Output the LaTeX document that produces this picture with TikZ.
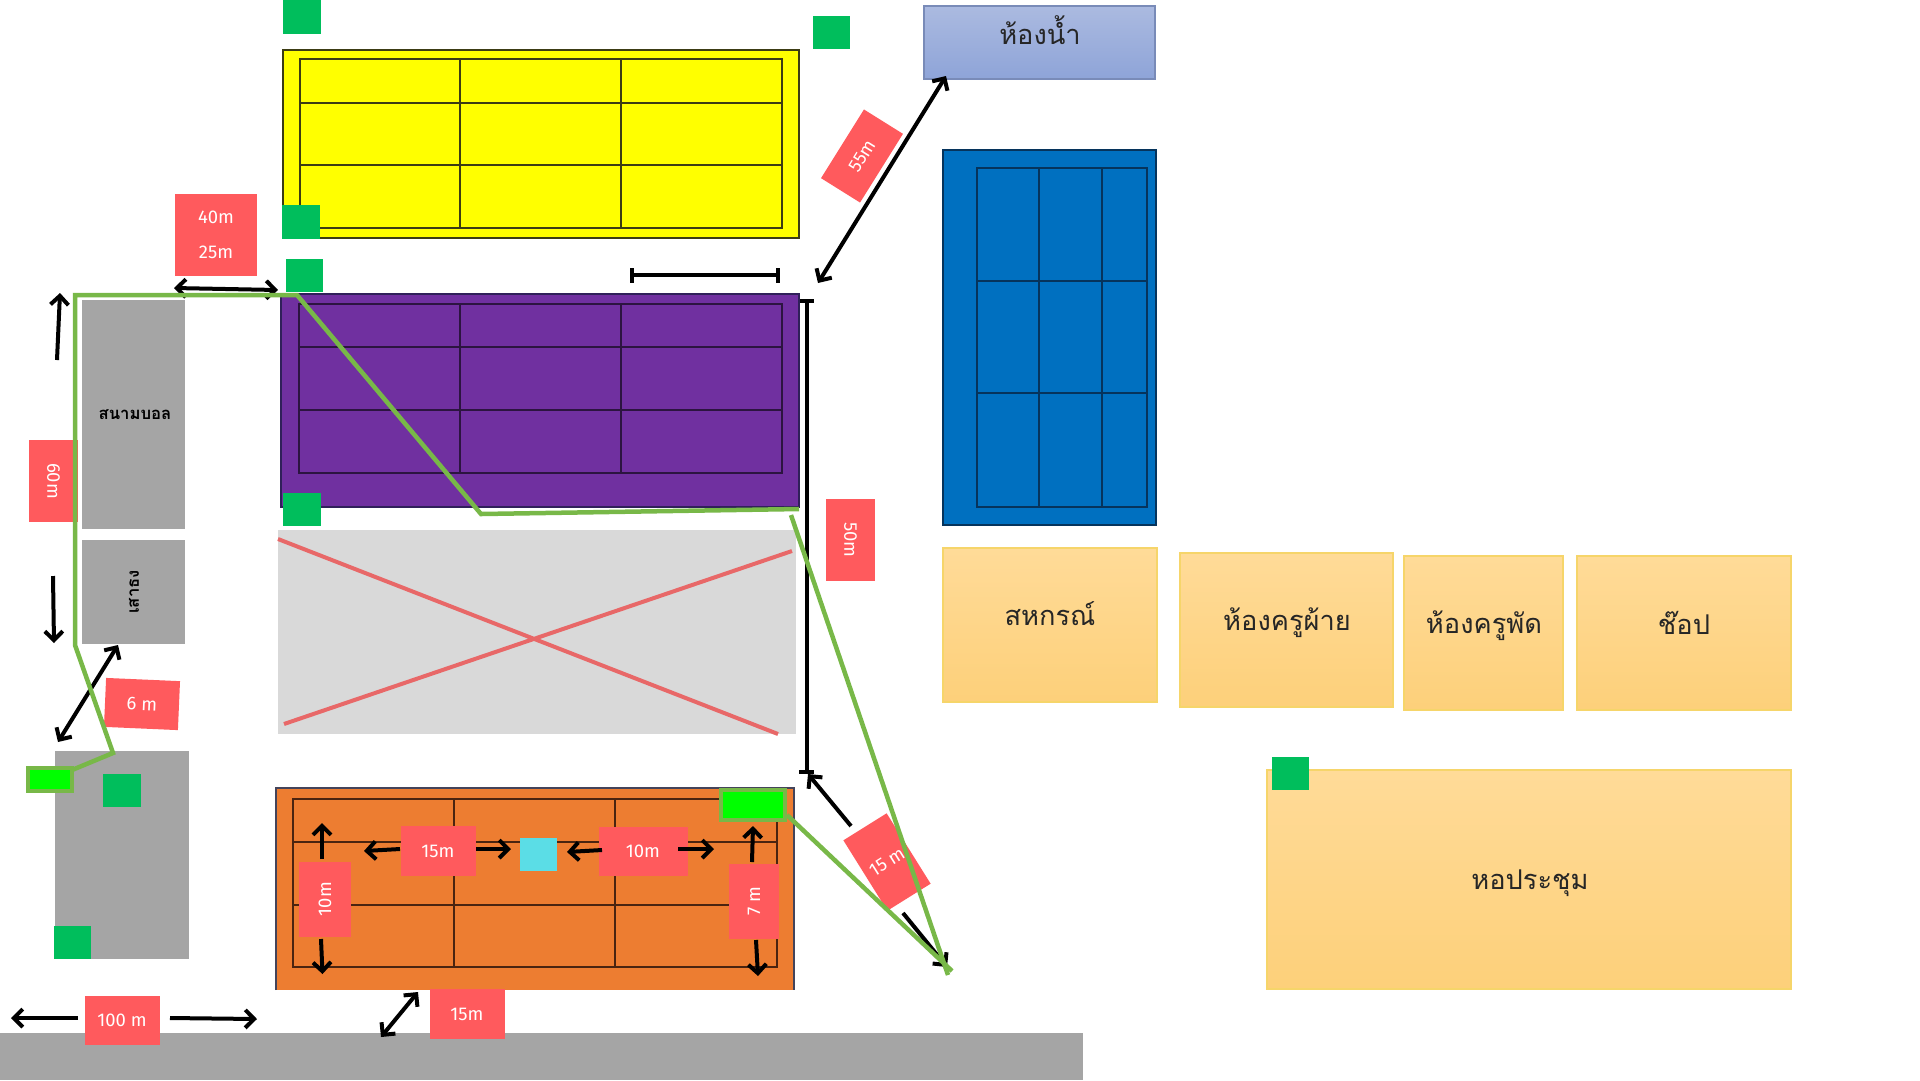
\documentclass[tikz,border=0pt]{standalone}
\usepackage{fontspec}
\usetikzlibrary{arrows.meta}
\setmainfont{Fira Sans}
\newfontfamily\thaifont[Script=Thai]{Loma}
\newdimen\pxu \pxu=0.02cm
\definecolor{lab}{HTML}{FF5A5D}
\definecolor{grn}{HTML}{00BE5C}
\definecolor{pathg}{HTML}{78B848}
\definecolor{grayb}{HTML}{A5A5A5}
\definecolor{hallT}{HTML}{FFDB98}
\definecolor{hallB}{HTML}{FDD07A}
\definecolor{hallE}{HTML}{F6D56A}
\definecolor{pur}{HTML}{7030A0}
\definecolor{xred}{HTML}{E86868}
\definecolor{org}{HTML}{ED7D31}
\definecolor{blu}{HTML}{0070C0}
\definecolor{bathT}{HTML}{ABBAE0}
\definecolor{bathB}{HTML}{8EA4D8}
\definecolor{cyanb}{HTML}{5BDDE6}
\definecolor{yel}{HTML}{FFFF00}
\definecolor{lime}{HTML}{00FF00}
\definecolor{yline}{HTML}{3C3C14}
\definecolor{oedge}{HTML}{44445A}
\definecolor{oline}{HTML}{4A2410}
\definecolor{pedge}{HTML}{30205A}
\definecolor{pline}{HTML}{2C1440}
\definecolor{bline}{HTML}{06345C}
\definecolor{plot}{HTML}{D9D9D9}
\tikzset{
  barb/.tip={Straight Barb[length=5.1pt,width=10.2pt,line width=2.27pt]},
  lbl/.style={fill=lab,text=white,inner sep=0pt,font=\fontsize{10.5pt}{12pt}\selectfont,align=center},
  arr/.style={draw=black,line width=4\pxu,-barb},
  darr/.style={draw=black,line width=4\pxu,barb-barb},
  grnbox/.style={fill=grn},
  litebox/.style={fill=lime,draw=pathg,line width=4\pxu},
  path line/.style={draw=pathg,line width=4.5\pxu,line join=miter},
  gridl/.style={line width=1.1\pxu},
  room/.style={top color=hallT,bottom color=hallB,draw=hallE,line width=1.6\pxu},
  roomtxt/.style={font=\thaifont\fontsize{15.5pt}{18pt}\selectfont,text=black!85,inner sep=0pt},
  gtxt/.style={font=\thaifont\bfseries\fontsize{9.5pt}{11pt}\selectfont,text=black,inner sep=0pt},
}
\begin{document}
\begin{tikzpicture}[x=0.02cm,y=-0.02cm]
\useasboundingbox (0,0) rectangle (1920,1080);
\fill[white] (0,0) rectangle (1920,1080);
% road and grey blocks
\fill[grayb] (0,1033) rectangle (1083,1080);
\fill[grayb] (55,751) rectangle (189,959);
\fill[grayb] (82,300) rectangle (185,529);
\node[gtxt] (ball) at (135,415) {สนามบอล};
\fill[grayb] (82,540) rectangle (185,644);
\node[gtxt,rotate=90] (flag) at (134,592) {เสาธง};
% yellow court
\draw[fill=yel,draw=yline,line width=2.2\pxu] (283,50) rectangle (799,238);
\draw[gridl,draw=yline] (300,59) rectangle (782,228) (460,59)--(460,228) (621,59)--(621,228) (300,103)--(782,103) (300,165)--(782,165);
% purple court
\draw[fill=pur,draw=pedge,line width=2.2\pxu] (281,294) rectangle (799,507);
\draw[gridl,draw=pline] (299,304) rectangle (782,473) (460,304)--(460,473) (621,304)--(621,473) (299,347)--(782,347) (299,410)--(782,410);
% crossed plot
\fill[plot] (278,530) rectangle (796,734);
\draw[xred,line width=4\pxu] (278,539)--(778,734) (284,724)--(792,551);
% orange court
\fill[org] (276,788) rectangle (794,990);
\draw[oedge,line width=2.4\pxu] (276,990)--(276,788)--(794,788)--(794,990);
\draw[gridl,draw=oline] (293,799) rectangle (777,967) (454,799)--(454,967) (615,799)--(615,967) (293,842)--(777,842) (293,905)--(777,905);
% blue court
\draw[fill=blu,draw=bline,line width=2.2\pxu] (943,150) rectangle (1156,525);
\draw[gridl,draw=bline] (977,168) rectangle (1147,507) (1039,168)--(1039,507) (1102,168)--(1102,507) (977,281)--(1147,281) (977,393)--(1147,393);
% bathroom
\draw[top color=bathT,bottom color=bathB,draw=bathB!85!black,line width=1.6\pxu] (924,6) rectangle (1155,79);
\node[roomtxt] (bath) at (1040,30) {ห้องน้ำ};
% rooms
\draw[room] (943,548) rectangle (1157,702);
\node[roomtxt] (coop) at (1050,614) {สหกรณ์};
\draw[room] (1180,553) rectangle (1393,707);
\node[roomtxt] (fai) at (1287,623) {ห้องครูผ้าย};
\draw[room] (1404,556) rectangle (1563,710);
\node[roomtxt] (phat) at (1484,626) {ห้องครูพัด};
\draw[room] (1577,556) rectangle (1791,710);
\node[roomtxt] (shop) at (1684,623) {ช๊อป};
\draw[room] (1267,770) rectangle (1791,989);
\node[roomtxt] (hall) at (1530,883) {หอประชุม};
% green squares
\fill[grnbox] (283,0) rectangle (321,34);
\fill[grnbox] (813,16) rectangle (850,49);
\fill[grnbox] (282,205) rectangle (320,239);
\fill[grnbox] (286,259) rectangle (323,292);
\fill[grnbox] (283,493) rectangle (321,526);
\fill[grnbox] (103,774) rectangle (141,807);
\fill[grnbox] (54,926) rectangle (91,959);
\fill[grnbox] (1272,757) rectangle (1309,790);
\fill[cyanb] (520,838) rectangle (557,871);
% labels
\node[lbl,minimum width=82\pxu,minimum height=82\pxu] (l4025) at (216,235) {40m\\[8pt]25m};
\node[lbl,minimum width=82\pxu,minimum height=49\pxu,rotate=-90] (l60) at (53.5,481) {60m};
\node[lbl,minimum width=74\pxu,minimum height=49\pxu,rotate=-2.5] (l6) at (142,704) {6 m};
\node[lbl,minimum width=75\pxu,minimum height=49\pxu] (l100) at (122,1020) {100 m};
\node[lbl,minimum width=75\pxu,minimum height=50\pxu] (l15a) at (467,1014) {15m};
\node[lbl,minimum width=75\pxu,minimum height=50\pxu] (l15b) at (438,851) {15m};
\node[lbl,minimum width=89\pxu,minimum height=49\pxu] (l10b) at (643,851) {10m};
\node[lbl,minimum width=75\pxu,minimum height=52\pxu,rotate=90] (l10a) at (325,899) {10m};
\node[lbl,minimum width=75\pxu,minimum height=50\pxu,rotate=90] (l7) at (754,901) {7 m};
\node[lbl,minimum width=51\pxu,minimum height=83\pxu,rotate=32] (l15c) at (887,862) {15 m};
\node[lbl,minimum width=81\pxu,minimum height=46\pxu,rotate=58] (l55) at (862,156) {55m};
\node[lbl,minimum width=82\pxu,minimum height=49\pxu,rotate=-90] (l50) at (850.5,540) {50m};
% bright rectangles
\draw[litebox] (28,768) rectangle (72,791);
\draw[litebox] (721,790) rectangle (785,820);
% black measuring lines
\draw[line width=4\pxu] (807,301)--(807,772);
\draw[line width=4\pxu] (800,301)--(814,301) (799,772)--(814,772);
\draw[line width=4\pxu] (632,275)--(778,275) (632,268)--(632,283) (778,268)--(778,283);
\draw[darr] (174,288)--(278,290);
\draw[arr] (57,360)--(60,293);
\draw[arr] (53,576)--(54,643);
\draw[darr] (118,645)--(58,742);
\draw[arr] (78,1018)--(11,1018);
\draw[arr] (170,1018)--(257,1019);
\draw[darr] (418,992)--(381,1037);
\draw[arr] (400,849)--(364,851);
\draw[arr] (476,849)--(511,849);
\draw[arr] (322,859)--(322,823);
\draw[arr] (321,939)--(322.5,974);
\draw[arr] (602,850)--(567,852);
\draw[arr] (678,849)--(714,849);
\draw[arr] (752,862)--(753,826);
\draw[arr] (756,940)--(758,976);
\draw[arr] (851,826)--(808,774);
\draw[arr] (903,913)--(947,967);
\draw[darr] (946,76)--(818,283);
% walking path
\draw[path line] (72,770)--(113,753)--(75,645)--(75,295)--(297,295)--(481,514)--(799,509);
\draw[path line] (791,515)--(948,975);
\draw[path line] (787,815)--(952,971);
\end{tikzpicture}
\end{document}
